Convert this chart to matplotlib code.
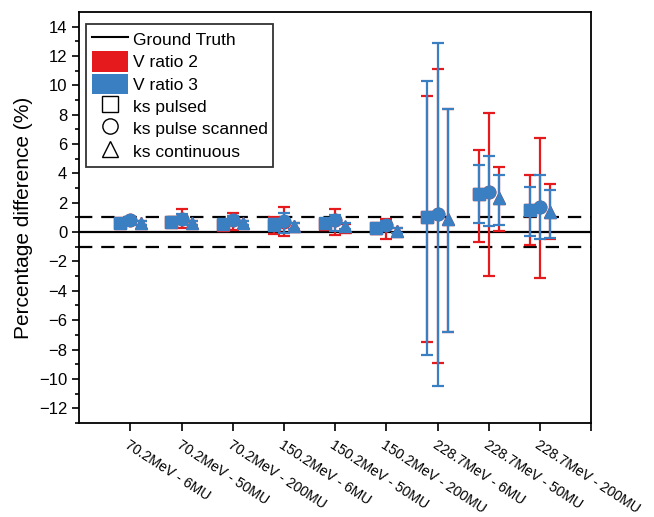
import matplotlib.pyplot as plt
import numpy as np
from matplotlib.lines import Line2D
from matplotlib.patches import Patch

plt.rcParams['font.family'] = ['Liberation Sans', 'DejaVu Sans']

categories = ["70.2MeV - 6MU", "70.2MeV - 50MU", "70.2MeV - 200MU",
              "150.2MeV - 6MU", "150.2MeV - 50MU", "150.2MeV - 200MU",
              "228.7MeV - 6MU", "228.7MeV - 50MU", "228.7MeV - 200MU"]

# V ratio 2 (red): value, lower end, upper end
r2_pulsed = [0.65, 0.7, 0.5, 0.5, 0.55, 0.25, 1.0, 2.6, 1.5]
r2_pulsed_lo = [0.5, 0.5, 0.35, -0.1, 0.2, -0.1, -7.5, -0.7, -0.9]
r2_pulsed_hi = [0.8, 0.9, 0.7, 1.0, 0.9, 0.5, 9.3, 5.6, 3.9]
r2_scanned = [0.85, 0.9, 0.8, 0.7, 0.8, 0.45, 1.2, 2.7, 1.7]
r2_scanned_lo = [0.65, 0.25, 0.15, -0.3, -0.2, -0.45, -8.9, -3.0, -3.1]
r2_scanned_hi = [1.05, 1.6, 1.3, 1.7, 1.55, 0.9, 11.1, 8.1, 6.4]
r2_cont = [0.6, 0.6, 0.6, 0.4, 0.35, 0.1, 0.9, 2.3, 1.4]
r2_cont_lo = [0.45, 0.45, 0.45, 0.2, 0.15, -0.05, -6.8, 0.1, -0.5]
r2_cont_hi = [0.75, 0.75, 0.75, 0.6, 0.55, 0.25, 8.4, 4.4, 3.3]

# V ratio 3 (blue)
r3_pulsed = [0.65, 0.7, 0.55, 0.55, 0.6, 0.3, 1.0, 2.6, 1.5]
r3_pulsed_lo = [0.5, 0.5, 0.4, 0.1, 0.3, 0.1, -8.4, 0.6, -0.3]
r3_pulsed_hi = [0.8, 0.9, 0.7, 0.9, 0.9, 0.5, 10.3, 4.6, 3.1]
r3_scanned = [0.85, 0.9, 0.85, 0.75, 0.85, 0.5, 1.2, 2.75, 1.7]
r3_scanned_lo = [0.7, 0.6, 0.6, -0.05, 0.1, 0.25, -10.5, 0.4, -0.5]
r3_scanned_hi = [1.0, 1.2, 1.1, 1.3, 1.15, 0.75, 12.9, 5.2, 3.9]
r3_cont = [0.6, 0.6, 0.6, 0.4, 0.4, 0.1, 0.9, 2.3, 1.4]
r3_cont_lo = [0.45, 0.45, 0.45, 0.2, 0.2, -0.05, -6.8, 0.5, -0.4]
r3_cont_hi = [0.75, 0.75, 0.75, 0.6, 0.6, 0.25, 8.4, 3.9, 2.9]

red = '#e41a1c'
blue = '#3a7fc1'

fig = plt.figure(figsize=(6.54, 5.17), dpi=100)
ax = fig.add_axes([0.121, 0.182, 0.783, 0.795])

x = np.arange(1, len(categories) + 1)

ax.axhline(0, color='black', lw=1.6, zorder=1)
ax.axhline(1, color='black', lw=1.6, ls=(0, (6, 4)), zorder=1)
ax.axhline(-1, color='black', lw=1.6, ls=(0, (6, 4)), zorder=1)

sets = [
    (red, [(r2_pulsed, r2_pulsed_lo, r2_pulsed_hi, 's', -0.2),
           (r2_scanned, r2_scanned_lo, r2_scanned_hi, 'o', 0.0),
           (r2_cont, r2_cont_lo, r2_cont_hi, '^', 0.2)], 2),
    (blue, [(r3_pulsed, r3_pulsed_lo, r3_pulsed_hi, 's', -0.2),
            (r3_scanned, r3_scanned_lo, r3_scanned_hi, 'o', 0.0),
            (r3_cont, r3_cont_lo, r3_cont_hi, '^', 0.2)], 4),
]
for color, series, z in sets:
    for vals, lo, hi, mk, off in series:
        vals = np.array(vals)
        yerr = [vals - np.array(lo), np.array(hi) - vals]
        ax.errorbar(x + off, vals, yerr=yerr, fmt=mk, color=color, ms=9,
                    elinewidth=1.6, capsize=4, capthick=1.6, zorder=z)

ax.set_xlim(0, 10)
ax.set_ylim(-13, 15)
ax.set_xticks(list(x) + [10])
ax.set_xticklabels(categories + [''], rotation=-33, ha='left',
                   rotation_mode='anchor', fontsize=10.2)
ax.set_yticks(np.arange(-12, 15, 2))
ax.set_yticks(np.arange(-13, 15, 1), minor=True)
ax.tick_params(axis='y', labelsize=12, length=5, width=1.2)
ax.tick_params(axis='y', which='minor', length=3, width=1.2)
ax.tick_params(axis='x', length=6, width=1.2, pad=5)
for s in ax.spines.values():
    s.set_linewidth(1.3)
ax.set_ylabel('Percentage difference (%)', fontsize=15)

handles = [Line2D([], [], color='black', lw=1.5),
           Patch(facecolor=red),
           Patch(facecolor=blue),
           Line2D([], [], marker='s', ls='', mfc='white', mec='black', ms=11),
           Line2D([], [], marker='o', ls='', mfc='white', mec='black', ms=11),
           Line2D([], [], marker='^', ls='', mfc='white', mec='black', ms=11)]
labels = ['Ground Truth', 'V ratio 2', 'V ratio 3', 'ks pulsed',
          'ks pulse scanned', 'ks continuous']
leg = ax.legend(handles, labels, loc='upper left', fontsize=12.5, frameon=True,
                fancybox=False, edgecolor='black', handlelength=2.1,
                handleheight=1.45, labelspacing=0.1, handletextpad=0.3,
                borderpad=0.3, borderaxespad=0, bbox_to_anchor=(0.014, 0.971))
leg.get_frame().set_linewidth(1.3)

fig.savefig('out.png', dpi=100)
